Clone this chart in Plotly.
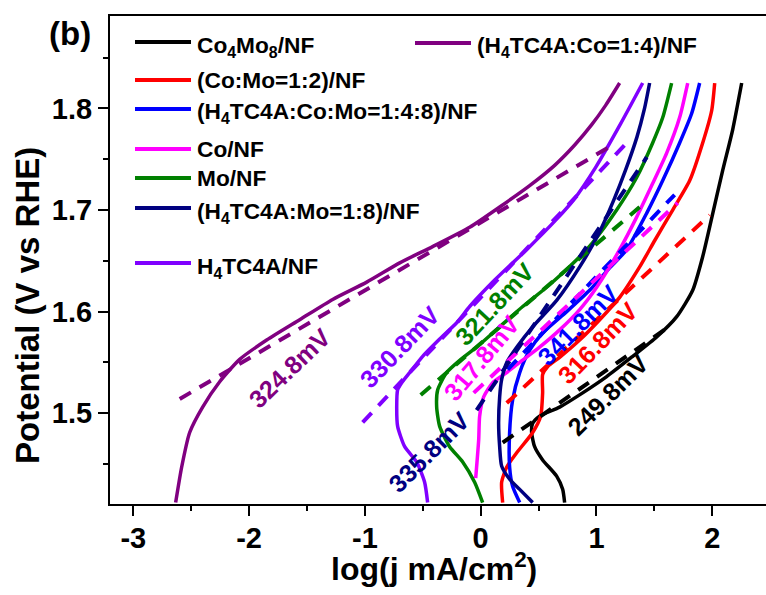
import plotly.graph_objects as go

# ---------------- data (log j [mA/cm2], Potential [V vs RHE]) ----------------
series_names = ["Co4Mo8/NF", "(Co:Mo=1:2)/NF", "(H4TC4A:Co:Mo=1:4:8)/NF", "Co/NF",
                "Mo/NF", "(H4TC4A:Mo=1:8)/NF", "H4TC4A/NF", "(H4TC4A:Co=1:4)/NF"]
legend_labels = ["Co<sub>4</sub>Mo<sub>8</sub>/NF", "(Co:Mo=1:2)/NF",
                 "(H<sub>4</sub>TC4A:Co:Mo=1:4:8)/NF", "Co/NF", "Mo/NF",
                 "(H<sub>4</sub>TC4A:Mo=1:8)/NF", "H<sub>4</sub>TC4A/NF",
                 "(H<sub>4</sub>TC4A:Co=1:4)/NF"]
colors = ["#000000", "#FF0000", "#0000FF", "#FF00FF", "#008000", "#000080", "#8000FF", "#800080"]

black_x = [0.725, 0.708, 0.656, 0.535, 0.466, 0.440, 0.449, 0.509, 0.682, 0.881, 1.088, 1.313,
           1.520, 1.693, 1.831, 1.917, 1.995, 2.090, 2.176, 2.254]
black_y = [1.412, 1.425, 1.438, 1.454, 1.467, 1.481, 1.490, 1.497, 1.506, 1.520, 1.536, 1.556,
           1.575, 1.595, 1.621, 1.654, 1.692, 1.739, 1.779, 1.825]

red_x = [0.190, 0.181, 0.225, 0.311, 0.449, 0.518, 0.535, 0.535, 0.579, 0.682, 0.855, 1.028,
         1.200, 1.373, 1.503, 1.658, 1.805, 1.917, 1.995, 2.021]
red_y = [1.412, 1.432, 1.447, 1.461, 1.481, 1.497, 1.520, 1.538, 1.546, 1.555, 1.572, 1.592,
         1.614, 1.644, 1.670, 1.700, 1.729, 1.766, 1.798, 1.825]

blue_x = [0.337, 0.276, 0.250, 0.250, 0.276, 0.337, 0.423, 0.535, 0.743, 0.941, 1.114, 1.261,
          1.434, 1.572, 1.718, 1.822, 1.891]
blue_y = [1.412, 1.428, 1.447, 1.481, 1.513, 1.540, 1.562, 1.579, 1.600, 1.621, 1.643, 1.661,
          1.697, 1.729, 1.766, 1.795, 1.825]

magenta_x = [-0.043, -0.017, -0.009, 0.026, 0.104, 0.225, 0.337, 0.509, 0.682, 0.855, 1.002,
             1.200, 1.347, 1.485, 1.606, 1.718, 1.788]
magenta_y = [1.436, 1.474, 1.497, 1.516, 1.530, 1.540, 1.550, 1.565, 1.582, 1.602, 1.624,
             1.661, 1.693, 1.726, 1.756, 1.791, 1.825]

green_x = [0.017, -0.052, -0.155, -0.268, -0.354, -0.380, -0.371, -0.294, -0.181, -0.035, 0.164,
           0.363, 0.570, 0.708, 0.855, 0.967, 1.174, 1.347, 1.485, 1.572, 1.649]
green_y = [1.412, 1.432, 1.452, 1.467, 1.487, 1.506, 1.523, 1.540, 1.552, 1.565, 1.585,
           1.605, 1.624, 1.638, 1.654, 1.668, 1.700, 1.732, 1.766, 1.791, 1.825]

navy_x = [0.449, 0.337, 0.250, 0.181, 0.164, 0.155, 0.164, 0.181, 0.225, 0.311, 0.449, 0.656,
          0.855, 1.020, 1.150, 1.250, 1.350, 1.415, 1.459]
navy_y = [1.412, 1.425, 1.435, 1.448, 1.467, 1.490, 1.516, 1.533, 1.550, 1.565, 1.585, 1.611,
          1.644, 1.677, 1.710, 1.739, 1.772, 1.800, 1.825]

violet_x = [-0.458, -0.484, -0.553, -0.656, -0.717, -0.725, -0.717, -0.682, -0.613, -0.501,
            -0.354, -0.207, -0.095, 0.121, 0.397, 0.648, 0.803, 0.993, 1.209, 1.399]
violet_y = [1.412, 1.432, 1.452, 1.467, 1.487, 1.506, 1.523, 1.530, 1.540, 1.556,
            1.573, 1.589, 1.605, 1.631, 1.661, 1.690, 1.710, 1.742, 1.785, 1.825]

purple_x = [-2.634, -2.582, -2.513, -2.401, -2.254, -2.081, -1.848, -1.563, -1.278, -0.984,
            -0.699, -0.415, -0.095, 0.190, 0.423, 0.639, 0.812, 0.959, 1.079, 1.200]
purple_y = [1.412, 1.447, 1.481, 1.506, 1.531, 1.553, 1.572, 1.592, 1.612, 1.629,
            1.648, 1.664, 1.683, 1.705, 1.724, 1.744, 1.764, 1.784, 1.803, 1.825]

solid_x = [black_x, red_x, blue_x, magenta_x, green_x, navy_x, violet_x, purple_x]
solid_y = [black_y, red_y, blue_y, magenta_y, green_y, navy_y, violet_y, purple_y]

# Tafel fit lines (start, end)
fit_x = [[0.190, 1.649], [0.225, 1.978], [0.233, 1.675], [-0.060, 1.701],
         [-0.518, 1.373], [-0.035, 1.434], [-1.019, 1.269], [-2.599, 1.140]]
fit_y = [[1.471, 1.587], [1.510, 1.695], [1.543, 1.715], [1.520, 1.707],
         [1.518, 1.703], [1.503, 1.752], [1.491, 1.767], [1.514, 1.764]]

# Tafel labels
tafel_text = ["249.8mV", "316.8mV", "341.8mV", "317.8mV", "321.8mV", "335.8mV", "330.8mV", "324.8mV"]
tafel_x = [1.097, 1.010, 0.838, 0.009, 0.121, -0.449, -0.699, -1.649]
tafel_y = [1.518, 1.569, 1.587, 1.554, 1.607, 1.462, 1.565, 1.544]
tafel_angle = [-45, -46, -45, -50, -47, -45, -46, -44]

x_ticks = [-3, -2, -1, 0, 1, 2]
y_ticks = [1.5, 1.6, 1.7, 1.8]

# ---------------- layout geometry ----------------
W, H = 766, 595
ML, MR, MT, MB = 110, 0, 16, 91
FONT = "Liberation Sans, Arial, sans-serif"


def px(xp):
    return (xp - ML) / (W - ML - MR)


def py(yp):
    return (H - MB - yp) / (H - MT - MB)


fig = go.Figure()

for i in range(len(series_names)):
    fig.add_trace(go.Scatter(x=solid_x[i], y=solid_y[i], mode="lines", name=series_names[i],
                             line=dict(color=colors[i], width=3.5, shape="spline", smoothing=0.6),
                             showlegend=False))
for i in range(len(series_names)):
    fig.add_trace(go.Scatter(x=fit_x[i], y=fit_y[i], mode="lines", name=series_names[i] + " fit",
                             line=dict(color=colors[i], width=4, dash="13px,10px"),
                             showlegend=False))

annotations = []
for i in range(len(tafel_text)):
    annotations.append(dict(x=tafel_x[i], y=tafel_y[i], xref="x", yref="y", text=tafel_text[i],
                            showarrow=False, textangle=tafel_angle[i],
                            xanchor="center", yanchor="middle",
                            font=dict(family=FONT, size=25, color=colors[i], weight="bold")))

# legend (manually placed, as in the original figure)
leg_pos = [(135, 42), (135, 80), (135, 109), (135, 149), (135, 178), (135, 208), (135, 263), (415, 43)]
shapes = []
for i, (lx, ly) in enumerate(leg_pos):
    shapes.append(dict(type="line", xref="paper", yref="paper", x0=px(lx), x1=px(lx + 56),
                       y0=py(ly), y1=py(ly), line=dict(color=colors[i], width=4)))
    sub_shift = 4 if "<sub>" in legend_labels[i] else 0
    annotations.append(dict(x=px(lx + 60), y=py(ly + sub_shift), xref="paper", yref="paper",
                            text=legend_labels[i], showarrow=False, xanchor="left", yanchor="middle",
                            font=dict(family=FONT, size=22.7, color="black", weight="bold")))

annotations.append(dict(x=px(70), y=py(34), xref="paper", yref="paper", text="(b)", showarrow=False,
                        xanchor="center", yanchor="middle",
                        font=dict(family=FONT, size=33, color="black", weight="bold")))
annotations.append(dict(x=px(434), y=py(567), xref="paper", yref="paper",
                        text="log(j mA/cm<sup>2</sup>)", showarrow=False,
                        xanchor="center", yanchor="middle",
                        font=dict(family=FONT, size=32, color="black", weight="bold")))
annotations.append(dict(x=px(28), y=py(306), xref="paper", yref="paper",
                        text="Potential (V vs RHE)", showarrow=False, textangle=-90,
                        xanchor="center", yanchor="middle",
                        font=dict(family=FONT, size=33, color="black", weight="bold")))

fig.update_layout(
    width=W, height=H, margin=dict(l=ML, r=MR, t=MT, b=MB),
    paper_bgcolor="white", plot_bgcolor="white",
    annotations=annotations, shapes=shapes,
    xaxis=dict(range=[-3.201, 2.464], tickvals=x_ticks, ticktext=[str(v) for v in x_ticks],
               ticks="outside", ticklen=10, tickwidth=1.8, tickcolor="black",
               showline=True, linecolor="black", linewidth=2, mirror=True,
               showgrid=False, zeroline=False, ticklabelstandoff=-3,
               minor=dict(dtick=0.5, tick0=0, ticks="outside", ticklen=5, tickwidth=1.8,
                          tickcolor="black", showgrid=False),
               tickfont=dict(family=FONT, size=29, color="black", weight="bold")),
    yaxis=dict(range=[1.4106, 1.891], tickvals=y_ticks, ticktext=[f"{v:.1f}" for v in y_ticks],
               ticks="outside", ticklen=10, tickwidth=1.8, tickcolor="black",
               showline=True, linecolor="black", linewidth=2, mirror=False,
               showgrid=False, zeroline=False,
               minor=dict(dtick=0.05, tick0=1.5, ticks="outside", ticklen=5, tickwidth=1.8,
                          tickcolor="black", showgrid=False),
               tickfont=dict(family=FONT, size=29, color="black", weight="bold")),
)

fig.write_html("out.html")
